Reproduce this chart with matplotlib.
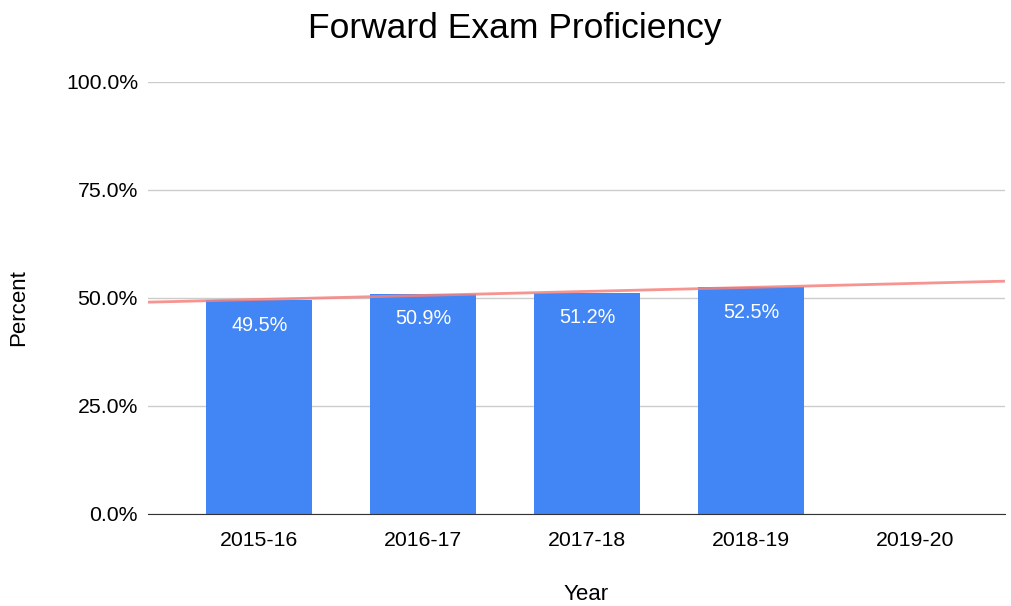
import matplotlib
matplotlib.use("Agg")
import matplotlib.pyplot as plt
import numpy as np

plt.rcParams["font.family"] = ["Liberation Sans", "DejaVu Sans"]

years = ["2015-16", "2016-17", "2017-18", "2018-19", "2019-20"]
percent = [49.5, 50.9, 51.2, 52.5]  # 2019-20 has no value

W, H = 1012, 606
fig = plt.figure(figsize=(W / 100, H / 100), dpi=100)
ax = fig.add_axes([0.146, 0.152, 0.847, 0.713])

x = np.arange(len(years))
xv = x[:len(percent)]
ax.bar(xv, percent, width=0.65, color="#4285f4", zorder=2)
for xi, v in zip(xv, percent):
    ax.annotate(f"{v:.1f}%", (xi, v), xytext=(0, -18), textcoords="offset points",
                ha="center", va="center", color="white", fontsize=14.3, zorder=4)

# linear trendline across the whole plot
xlim = (-0.68, 4.55)
k, b = np.polyfit(xv, percent, 1)
tx = np.array(xlim)
ax.plot(tx, k * tx + b, color="#f4817d", lw=2, alpha=0.85, zorder=3,
        solid_capstyle="butt")

ax.set_xlim(*xlim)
ax.set_ylim(0, 100)
ax.set_xticks(x)
ax.set_xticklabels(years, fontsize=15.3)
ax.set_yticks([0, 25, 50, 75, 100])
ax.set_yticklabels([f"{t:.1f}%" for t in [0, 25, 50, 75, 100]], fontsize=15.3)
ax.tick_params(length=0, pad=7)
ax.tick_params(axis="x", pad=12)
ax.grid(axis="y", color="#cccccc", lw=1, zorder=0)
for s in ["top", "right", "left"]:
    ax.spines[s].set_visible(False)
ax.spines["bottom"].set_color("#333333")
ax.spines["bottom"].set_zorder(3)

fig.text(586 / W, 1 - 595 / H, "Year", fontsize=16, ha="center", va="center")
fig.text(19 / W, 1 - 308 / H, "Percent", fontsize=16, ha="center", va="center",
         rotation=90)
fig.suptitle("Forward Exam Proficiency", fontsize=25.5, x=0.509, y=0.98)

fig.savefig("out.png", dpi=100)
